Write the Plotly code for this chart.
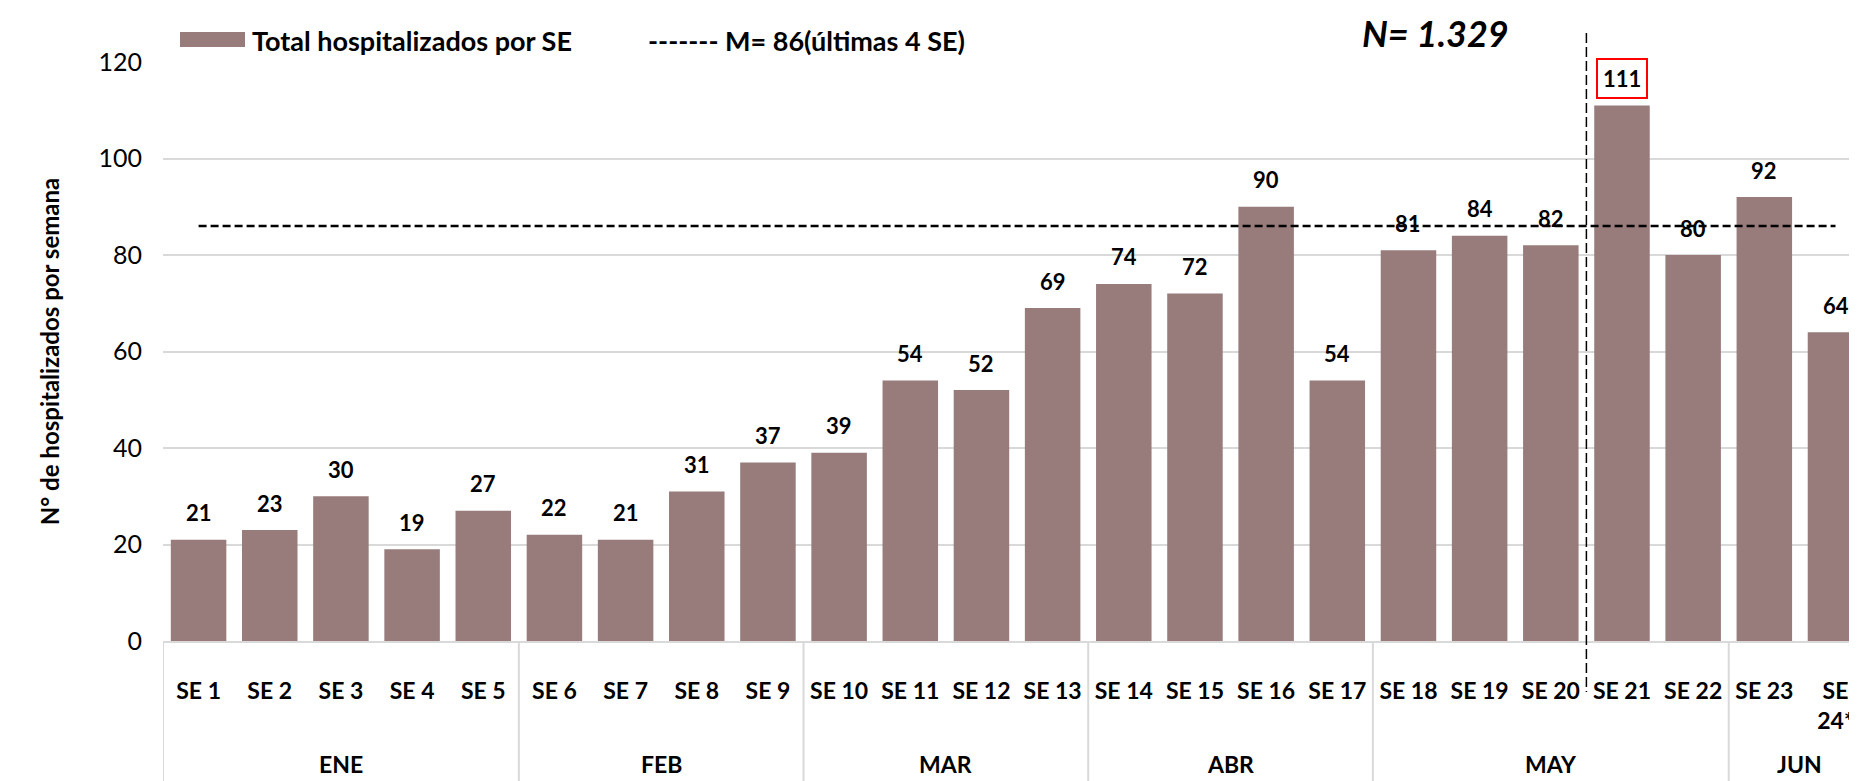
import plotly.graph_objects as go

# ---- data ----
categories = ["SE 1", "SE 2", "SE 3", "SE 4", "SE 5", "SE 6", "SE 7", "SE 8", "SE 9",
              "SE 10", "SE 11", "SE 12", "SE 13", "SE 14", "SE 15", "SE 16", "SE 17",
              "SE 18", "SE 19", "SE 20", "SE 21", "SE 22", "SE 23", "SE<br>24*"]
values = [21, 23, 30, 19, 27, 22, 21, 31, 37, 39, 54, 52, 69, 74, 72, 90, 54,
          81, 84, 82, 111, 80, 92, 64]
months = ["ENE", "FEB", "MAR", "ABR", "MAY", "JUN"]
month_sizes = [5, 4, 4, 4, 5, 2]
mean_value = 86
total_n = "1.329"
highlight_cat = "SE 21"
y_ticks = [0, 20, 40, 60, 80, 100, 120]

FONT = "Lato, 'Open Sans', sans-serif"
BAR_COLOR = "#987c7c"
GRID = "#d9d9d9"

# page is rendered with an 8px body margin -> design in page pixels, shift by OFF
OFF = 8
W, H = 1857, 781
ML = 163 - OFF           # plot left edge (page x=163)
MT = 62 - OFF            # plot top (page y=62, value 120)
PLOT_BOTTOM = 641 - OFF  # value 0 (page y=641)
MB = H - PLOT_BOTTOM
MR = 0
PH = H - MT - MB
PW = W - ML - MR
CAT_W = 71.17            # pixel width of one category
X_END = -0.5 + PW / CAT_W


def py(page_y):
    """paper y from page pixel y (from top)"""
    return (PLOT_BOTTOM - (page_y - OFF)) / PH


def px(page_x):
    return ((page_x - OFF) - ML) / PW


fig = go.Figure()
fig.add_trace(go.Bar(x=categories, y=values, marker=dict(color=BAR_COLOR, line=dict(width=0)),
                     name="Total hospitalizados por SE", showlegend=False, hoverinfo="x+y"))
fig.add_trace(go.Scatter(x=categories, y=[mean_value] * len(categories), mode="lines",
                         line=dict(color="black", width=2.5, dash="8px,4px"),
                         name="M= %d(últimas 4 SE)" % mean_value, showlegend=False))

annotations = []
# value labels
for c, v in zip(categories, values):
    a = dict(x=c, y=v, xref="x", yref="y", text="<b>%d</b>" % v, showarrow=False,
             yanchor="middle", yshift=27, font=dict(family=FONT, size=22, color="black"))
    if c == highlight_cat:
        a.update(bordercolor="#ff0000", borderwidth=2, borderpad=5, bgcolor="white")
    annotations.append(a)

# month labels and dividers
shapes = []
start = 0
bounds = [-0.5]
for m, n in zip(months, month_sizes):
    center = start + (n - 1) / 2
    annotations.append(dict(x=center, y=py(764), xref="x", yref="paper", text="<b>%s</b>" % m,
                            showarrow=False, yanchor="middle",
                            font=dict(family=FONT, size=23, color="black")))
    start += n
    bounds.append(start - 0.5)
for b in bounds:
    if b <= X_END:
        shapes.append(dict(type="line", xref="x", yref="paper", x0=b, x1=b, y0=0, y1=py(H + 10),
                           line=dict(color=GRID, width=2)))

# vertical dashed separator between SE 20 and SE 21
shapes.append(dict(type="line", xref="x", yref="paper", x0=19.5, x1=19.5, y0=py(33), y1=py(692),
                   line=dict(color="black", width=1.5, dash="10px,4px")))

# legend (manual, Excel style)
shapes.append(dict(type="rect", xref="paper", yref="paper", x0=px(180), x1=px(245),
                   y0=py(47), y1=py(32), fillcolor=BAR_COLOR, line=dict(width=0)))
annotations.append(dict(x=px(250), y=py(40), xref="paper", yref="paper", xanchor="left",
                        yanchor="middle", showarrow=False, text="<b>Total hospitalizados por SE</b>",
                        font=dict(family=FONT, size=27, color="black")))
annotations.append(dict(x=px(646), y=py(40), xref="paper", yref="paper", xanchor="left",
                        yanchor="middle", showarrow=False,
                        text="<b>------- M= %d(últimas 4 SE)</b>" % mean_value,
                        font=dict(family=FONT, size=27, color="black")))
# N total
annotations.append(dict(x=px(1435), y=py(9), xref="paper", yref="paper", xanchor="center",
                        yanchor="top", showarrow=False, text="<b><i>N= %s</i></b>" % total_n,
                        font=dict(family=FONT, size=36, color="black")))

fig.update_layout(
    width=W, height=H,
    margin=dict(l=ML, r=MR, t=MT, b=MB, pad=0),
    paper_bgcolor="white", plot_bgcolor="white",
    bargap=0.22,
    showlegend=False,
    font=dict(family=FONT, color="black"),
    xaxis=dict(type="category", range=[-0.5, X_END], showgrid=False, showline=True,
               linecolor=GRID, linewidth=2, ticks="outside", ticklen=28,
               tickcolor="rgba(0,0,0,0)", tickfont=dict(family=FONT, size=23, color="black"),
               tickprefix="<b>", ticksuffix="</b>", zeroline=False),
    yaxis=dict(range=[0, 120], tickvals=y_ticks, showgrid=True, gridcolor=GRID, gridwidth=1.5,
               zeroline=False, showline=False, ticks="outside", ticklen=15,
               tickcolor="rgba(0,0,0,0)", tickfont=dict(family=FONT, size=25, color="black"),
               tickprefix="<b>", ticksuffix="</b>",
               title=dict(text="<b>N° de hospitalizados por semana</b>", standoff=32,
                          font=dict(family=FONT, size=24, color="black"))),
    shapes=shapes, annotations=annotations,
)

fig.write_html("out.html")
